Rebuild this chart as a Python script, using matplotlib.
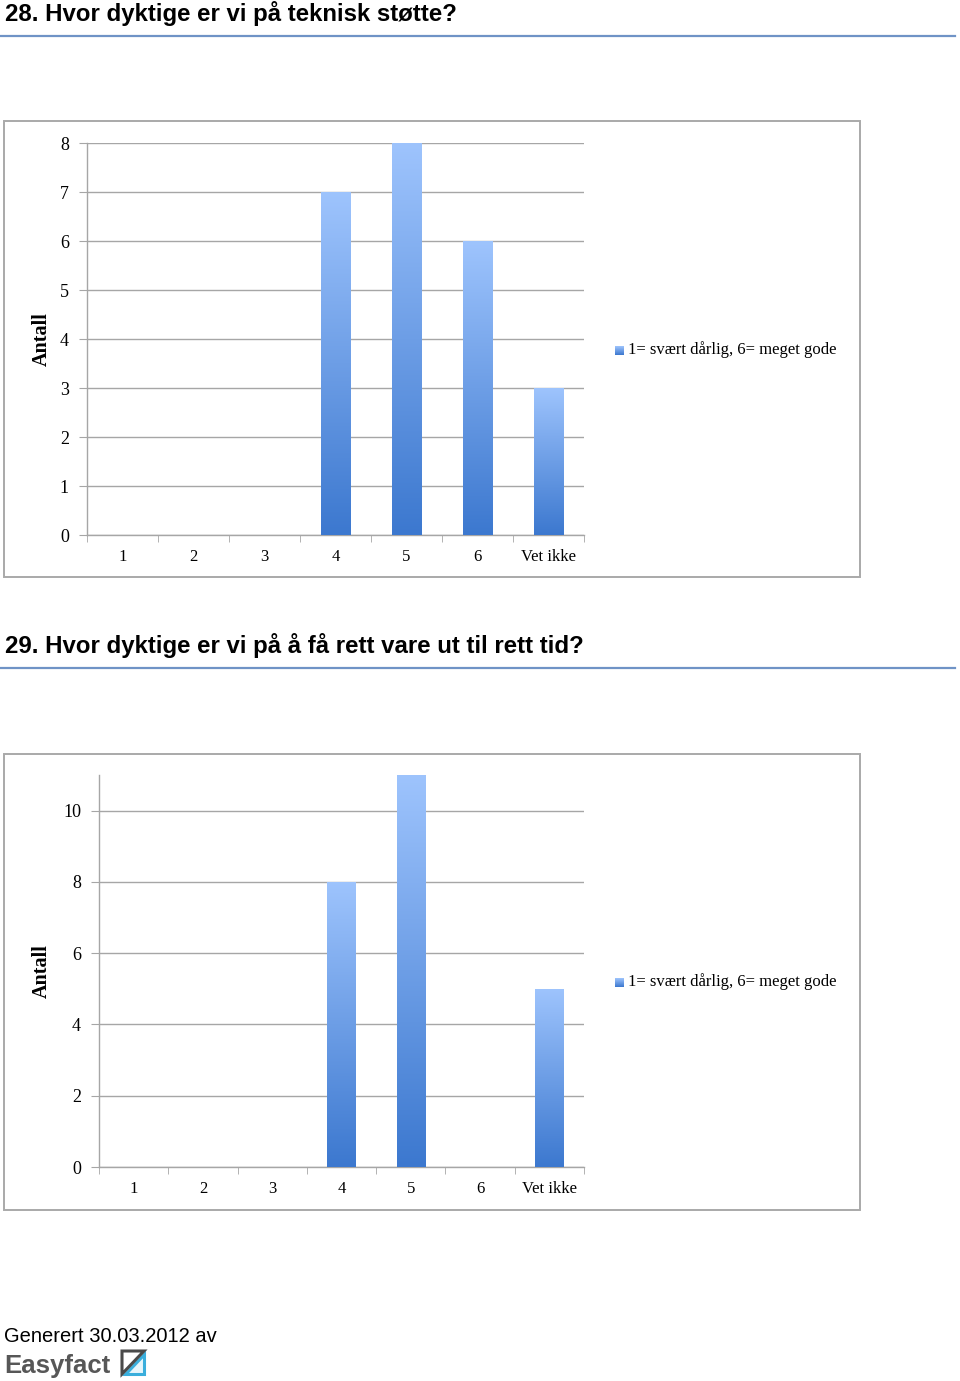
#!/usr/bin/env python3
"""Easyfact survey report page: two bar charts (questions 28 and 29)."""

import numpy as np
import matplotlib
matplotlib.use("Agg")
import matplotlib.pyplot as plt
from matplotlib.patches import Rectangle, Polygon
from matplotlib.lines import Line2D
from matplotlib.colors import LinearSegmentedColormap

# =============================================================================
# DATA
# =============================================================================
CATEGORIES = ["1", "2", "3", "4", "5", "6", "Vet ikke"]

Q28_TITLE = "28. Hvor dyktige er vi på teknisk støtte?"
Q28_VALUES = [0, 0, 0, 7, 8, 6, 3]
Q28_YTICKS = [0, 1, 2, 3, 4, 5, 6, 7, 8]
Q28_YMAX = 8

Q29_TITLE = "29. Hvor dyktige er vi på å få rett vare ut til rett tid?"
Q29_VALUES = [0, 0, 0, 8, 11, 0, 5]
Q29_YTICKS = [0, 2, 4, 6, 8, 10]
Q29_YMAX = 11

SERIES_LABEL = "1= svært dårlig, 6= meget gode"
Y_LABEL = "Antall"
FOOTER = "Generert 30.03.2012 av"
BRAND = "Easyfact"

# =============================================================================
# DISPLAY
# =============================================================================
W, H = 960, 1381
GRID = "#a6a6a6"
FRAME = "#a9a9a9"
RULE = "#6f93c6"
BAR_CMAP = LinearSegmentedColormap.from_list("bar", ["#3c78cf", "#9ec4fd"])
SERIF = ["Liberation Serif", "DejaVu Serif"]
SANS = ["Liberation Sans", "DejaVu Sans"]


def fx(px): return px / W
def fy(py): return 1 - py / H


def gradient_bars(ax, values):
    x = np.arange(len(values))
    bars = ax.bar(x, values, width=0.41, color="none", edgecolor="none", zorder=3)
    grad = np.linspace(1, 0, 256).reshape(-1, 1)
    for b, v in zip(bars, values):
        if v <= 0:
            continue
        x0 = b.get_x()
        im = ax.imshow(grad, cmap=BAR_CMAP, aspect="auto", zorder=3,
                       extent=(x0, x0 + b.get_width(), 0, v), interpolation="bicubic")
        im.set_clip_path(b)
    ax.set_xlim(-0.5, len(values) - 0.5)


def chart(fig, title, title_y, box_top, ax_left, values, yticks, ymax):
    # title + rule
    fig.text(fx(5), fy(title_y), title, fontsize=17.3, fontweight="bold",
             family=SANS, va="center", ha="left")
    fig.add_artist(Line2D([fx(0), fx(955)], [fy(title_y + 23)] * 2,
                          color=RULE, lw=1.6))
    # frame
    fig.add_artist(Rectangle((fx(4), fy(box_top + 456)), fx(856), 456 / H,
                             fill=False, edgecolor=FRAME, lw=1.4))

    ax_top = box_top + 22 if ymax == Q28_YMAX else box_top + 21
    ax_bot = box_top + 414 if ymax == Q28_YMAX else box_top + 413
    ax = fig.add_axes([fx(ax_left), fy(ax_bot), fx(584 - ax_left), (ax_bot - ax_top) / H])
    gradient_bars(ax, values)
    ax.set_ylim(0, ymax)
    ax.set_yticks(yticks)
    ax.set_yticklabels([str(t) for t in yticks], family=SERIF, fontsize=13)
    ax.set_xticks(np.arange(len(CATEGORIES)))
    ax.set_xticklabels(CATEGORIES, family=SERIF, fontsize=12)
    ax.set_xticks(np.arange(len(CATEGORIES) + 1) - 0.5, minor=True)
    ax.tick_params(axis="x", which="major", length=0, pad=10)
    ax.tick_params(axis="x", which="minor", length=5, color=GRID, direction="out")
    ax.tick_params(axis="y", length=6, color=GRID, pad=7)
    ax.grid(axis="y", color=GRID, lw=1.0, zorder=0)
    ax.set_axisbelow(True)
    for s in ("top", "right"):
        ax.spines[s].set_visible(False)
    for s in ("left", "bottom"):
        ax.spines[s].set_color(GRID)
        ax.spines[s].set_linewidth(1.0)
    ax.set_facecolor("none")

    # y label
    mid = (ax_top + ax_bot) / 2
    fig.text(fx(42), fy(mid), Y_LABEL, rotation=90, family=SERIF,
             fontweight="bold", fontsize=14.5, ha="center", va="center")

    # legend
    lg = fig.add_axes([fx(615), fy(mid + 16), fx(9), 9 / H])
    lg.imshow(np.linspace(1, 0, 32).reshape(-1, 1), cmap=BAR_CMAP, aspect="auto")
    lg.axis("off")
    fig.text(fx(628), fy(mid + 11), SERIES_LABEL, family=SERIF, fontsize=12,
             ha="left", va="center")
    return ax


def footer(fig):
    fig.text(fx(4), fy(1337), FOOTER, family=SANS, fontsize=14.5,
             ha="left", va="center")
    fig.text(fx(4), fy(1366), BRAND, family=SANS, fontsize=18.5,
             fontweight="bold", color="#575757", ha="left", va="center")
    # logo: square split by a diagonal, lower-right half in blue
    x0, x1, y0, y1 = 122, 144, 1351, 1374
    gray = Polygon([(fx(x0), fy(y1)), (fx(x0), fy(y0)), (fx(x1), fy(y0))],
                   closed=True, fill=False, edgecolor="#4a4a4a", lw=2.2)
    blue = Polygon([(fx(x0 + 3), fy(y1)), (fx(x1), fy(y1)), (fx(x1), fy(y0 + 3))],
                   closed=True, facecolor="#e6f5fb", edgecolor="#3aaedc", lw=2.2)
    fig.add_artist(blue)
    fig.add_artist(gray)


def main():
    fig = plt.figure(figsize=(W / 100, H / 100), dpi=100)
    chart(fig, Q28_TITLE, 13, 121, 87, Q28_VALUES, Q28_YTICKS, Q28_YMAX)
    chart(fig, Q29_TITLE, 645, 754, 99, Q29_VALUES, Q29_YTICKS, Q29_YMAX)
    footer(fig)
    fig.savefig("out.png", dpi=100)
    plt.close(fig)


if __name__ == "__main__":
    main()
